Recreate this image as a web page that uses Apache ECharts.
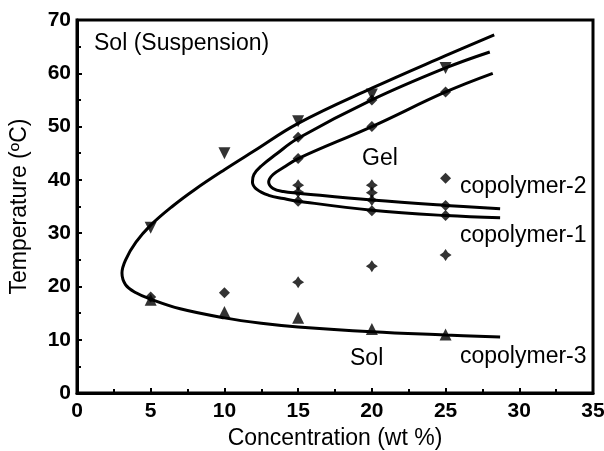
<!DOCTYPE html>
<html>
<head>
<meta charset="utf-8">
<script src="https://cdn.jsdelivr.net/npm/echarts@6/dist/echarts.min.js"></script>
<style>
  html, body { margin: 0; padding: 0; background: #fff; }
  #chart { width: 604px; height: 451px; }
</style>
</head>
<body>
<div id="chart"></div>
<script>
  // fitted phase boundaries
  var curve1 = [[28.2, 60], [25, 56.5], [20, 50], [15, 44], [14, 42.3], [13.3, 41], [13, 39.6], [13.3, 38.4], [14, 37.8], [15, 37.5], [20, 36.2], [25, 35.2], [28.7, 34.6]]
  var curve2 = [[28, 64], [25, 61], [20, 55], [15, 47.8], [13.5, 44.8], [12.5, 42.6], [12, 41], [11.9, 39.6], [12.2, 38.2], [13, 37.1], [14, 36.5], [15, 36], [20, 34.3], [25, 33.3], [28.7, 32.9]]
  var curve3 = [[28.3, 67.2], [25, 63.3], [20, 57.2], [15, 50.6], [12, 45.4], [10, 41.9], [8, 38.2], [6.5, 35.1], [5, 31.5], [4, 28.3], [3.3, 25], [3.05, 22.5], [3.3, 20.3], [4, 18.8], [5, 17.6], [7, 15.8], [10, 14.1], [12.5, 13.1], [15, 12.4], [20, 11.5], [25, 10.9], [28.7, 10.5]]

  // measured points
  var triUp = [[5, 17.5], [10, 15.2], [15, 14.1], [20, 12], [25, 11]]
  var triDown = [[5, 31], [10, 45], [15, 51], [20, 56], [25, 61]]
  var diamonds = [[5, 18], [10, 18.8], [15, 48], [20, 55], [15, 44], [20, 50], [25, 56.5], [15, 36], [20, 34.2], [25, 33.3], [25, 35.2], [25, 40.3]]
  var crosses = [[15, 20.8], [20, 23.8], [25, 25.9], [15, 39], [15, 37.7], [20, 39], [20, 37.6], [20, 36.2]]

  var xTicks = [0, 5, 10, 15, 20, 25, 30, 35]
  var yTicks = [0, 10, 20, 30, 40, 50, 60, 70]

  var labels = [
    { text: 'Sol (Suspension)', x: 94, y: 45 },
    { text: 'Gel', x: 362, y: 160 },
    { text: 'copolymer-2', x: 460, y: 188 },
    { text: 'copolymer-1', x: 460, y: 237 },
    { text: 'Sol', x: 350, y: 360 },
    { text: 'copolymer-3', x: 460, y: 358 }
  ]

  var font = 'Arial, "Liberation Sans", sans-serif'
  var starPath = 'path://M5,0 L7,3 L10,5 L7,7 L5,10 L3,7 L0,5 L3,3 Z'

  function axisStyle (ticks, extra) {
    var ax = {
      type: 'value',
      min: ticks[0],
      max: ticks[ticks.length - 1],
      interval: ticks[1] - ticks[0],
      axisLine: { show: true, onZero: false, lineStyle: { color: '#000', width: 3 } },
      axisTick: { show: true, inside: true, length: 5, lineStyle: { color: '#000', width: 2 } },
      minorTick: { show: true, splitNumber: 2, length: 4, lineStyle: { color: '#000', width: 2 } },
      splitLine: { show: false },
      nameTextStyle: { color: '#000', fontSize: 23, fontFamily: font }
    }
    for (var k in extra) ax[k] = extra[k]
    return ax
  }

  function curve (data) {
    return {
      type: 'line',
      data: data,
      smooth: 0.4,
      showSymbol: false,
      silent: true,
      lineStyle: { color: '#000', width: 3 }
    }
  }

  function marks (data, symbol, size, rotate) {
    return {
      type: 'scatter',
      data: data,
      symbol: symbol,
      symbolSize: size,
      symbolRotate: rotate || 0,
      itemStyle: { color: '#000' },
      z: 3
    }
  }

  var myChart = echarts.init(document.getElementById('chart'))
  myChart.setOption({
    animation: false,
    backgroundColor: '#fff',
    grid: {
      left: 77,
      right: 11,
      top: 20,
      bottom: 58,
      containLabel: false,
      outerBoundsMode: 'none',
      show: true,
      borderColor: '#000',
      borderWidth: 3
    },
    xAxis: axisStyle(xTicks, {
      name: 'Concentration (wt %)',
      nameLocation: 'middle',
      nameGap: 34,
      axisLabel: { color: '#000', fontSize: 21, fontWeight: 'bold', fontFamily: font, margin: 8 }
    }),
    yAxis: axisStyle(yTicks, {
      name: 'Temperature (ºC)',
      nameLocation: 'middle',
      nameGap: 46,
      axisLabel: { color: '#000', fontSize: 21, fontWeight: 'bold', fontFamily: font, margin: 6 }
    }),
    series: [
      curve(curve1),
      curve(curve2),
      curve(curve3),
      marks(triUp, 'triangle', 12),
      marks(triDown, 'triangle', 12, 180),
      marks(diamonds, 'diamond', 11),
      marks(crosses, starPath, 12)
    ],
    graphic: labels.map(function (l) {
      return {
        type: 'text',
        left: l.x,
        top: l.y - 13,
        style: { text: l.text, fill: '#000', fontSize: 23, fontFamily: font }
      }
    })
  })
</script>
</body>
</html>
